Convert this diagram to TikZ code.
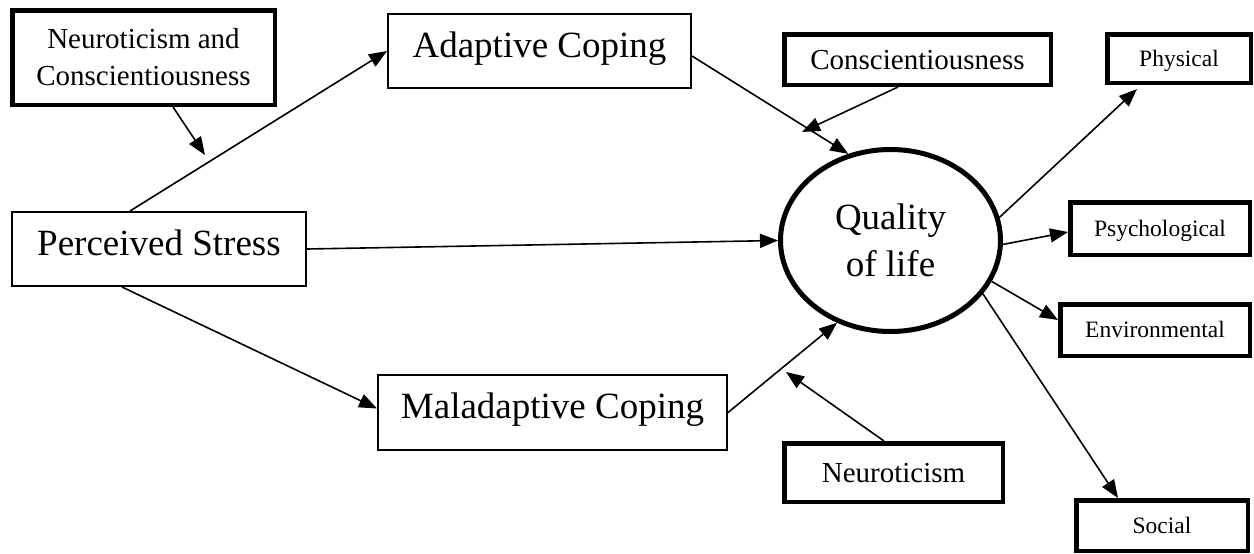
\documentclass[tikz,border=0pt]{standalone}
\usepackage{fontspec}
\setmainfont{Liberation Serif}
\usetikzlibrary{arrows.meta,shapes.geometric,calc}
\begin{document}
\begin{tikzpicture}[x=1pt,y=-1pt,
  boxbase/.style={draw, rectangle, inner sep=0pt},
  thinbox/.style={boxbase, line width=1.6pt},
  thickbox/.style={boxbase, line width=4.5pt},
  bigtxt/.style={font=\fontsize{37}{44}\selectfont, text height=24.4pt, text depth=12pt},
  midtxt/.style={font=\fontsize{29}{37}\selectfont, text height=19.1pt, text depth=0pt},
  smalltxt/.style={font=\fontsize{23.5}{28}\selectfont, text height=15.5pt, text depth=0pt},
  arr/.style={-{Triangle[length=18pt,width=14pt]}, line width=1.6pt}
]
\useasboundingbox[fill=white] (0,0) rectangle (1254,554);

% nodes
\node[thickbox, align=center, font=\fontsize{29}{37}\selectfont, minimum width=262.5pt, minimum height=94.5pt] (nc) at (143.5,57.5) {Neuroticism and\\Conscientiousness};
\node[thinbox, bigtxt, minimum width=303.4pt, minimum height=74.4pt] (adapt) at (539.5,51) {Adaptive Coping};
\node[thickbox, midtxt, minimum width=266.5pt, minimum height=50.5pt] (consc) at (917.5,59.5) {Conscientiousness};
\node[thickbox, smalltxt, minimum width=143.5pt, minimum height=48.5pt] (phys) at (1179,58.5) {Physical};
\node[thickbox, smalltxt, minimum width=179.5pt, minimum height=52.5pt] (psych) at (1160,228.5) {Psychological};
\node[thickbox, smalltxt, minimum width=189.5pt, minimum height=51.5pt] (env) at (1155,330) {Environmental};
\node[thickbox, smalltxt, minimum width=171.5pt, minimum height=50.5pt] (social) at (1162,525.5) {Social};
\node[thinbox, bigtxt, minimum width=294.4pt, minimum height=74.4pt] (ps) at (159,249) {Perceived Stress};
\node[thinbox, bigtxt, minimum width=349.4pt, minimum height=75.4pt] (mal) at (552.5,412.5) {Maladaptive Coping};
\node[thickbox, midtxt, minimum width=218.5pt, minimum height=58.5pt] (neur) at (893.5,472.5) {Neuroticism};
\node[draw, ellipse, line width=5pt, inner sep=0pt, minimum width=220pt, minimum height=182pt, align=center, font=\fontsize{37}{47}\selectfont] (qol) at (890.5,240.5) {Quality\\of life};

% moderator targets
\coordinate (c0) at (205,155);
\coordinate (c1) at (802,132);
\coordinate (c2) at (786,372);

% connectors
\draw[arr] ($(ps.north)+(-29,0)$) -- (adapt.west);
\draw[arr] (ps.east) -- (qol.west);
\draw[arr] ($(ps.south)+(-37,0)$) -- ($(mal.west)+(0,-4)$);
\draw[arr] ($(adapt.east)+(0,5)$) -- (qol.116);
\draw[arr] (mal.east) -- (qol.237);
\draw[arr] ($(nc.south)+(29.5,0)$) -- (c0);
\draw[arr] ($(consc.south)+(-19.5,0)$) -- (c1);
\draw[arr] ($(neur.north)+(-9.5,0)$) -- (c2);
\draw[arr] (qol.12) -- ($(phys.south)+(-42,4)$);
\draw[arr] (qol.-2) -- ($(psych.west)+(0,3.5)$);
\draw[arr] (qol.-22) -- ($(env.west)+(0,-10)$);
\draw[arr] (qol.-30) -- ($(social.north)+(-44,0)$);
\end{tikzpicture}
\end{document}
